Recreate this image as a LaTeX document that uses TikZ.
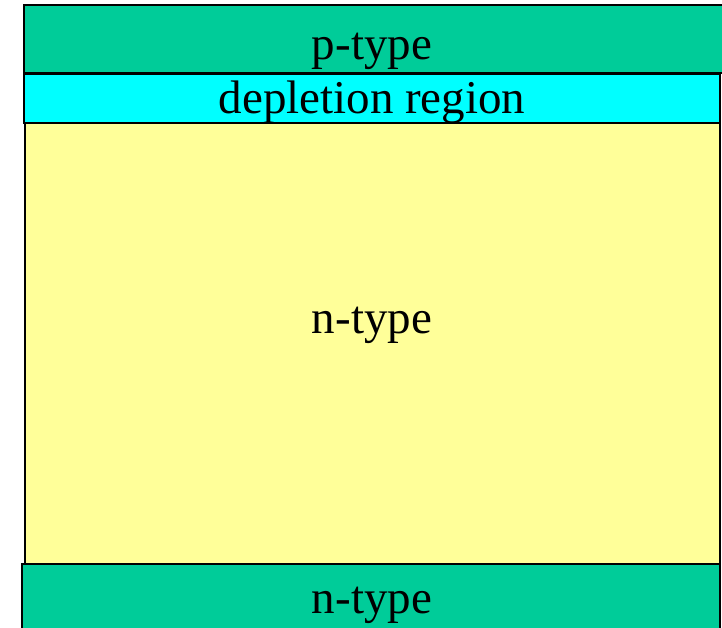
\documentclass[tikz,border=0pt]{standalone}
\usepackage{fontspec}
\setmainfont{Liberation Serif}
\definecolor{ptype}{RGB}{0,204,153}
\definecolor{depl}{RGB}{0,255,255}
\definecolor{ntype}{RGB}{255,255,153}
\begin{document}
\begin{tikzpicture}[x=1pt,y=-1pt,
  layer/.style={draw=black,line width=1.5pt},
  lbl/.style={font=\fontsize{47}{50}\selectfont,inner sep=0pt,anchor=base}]
\useasboundingbox (0,0) rectangle (722,627);
\fill[white] (0,0) rectangle (722,627);
\path[layer,fill=ntype] (25,123) rectangle (720,564);
\path[layer,fill=ptype] (24,5) rectangle (730,73);
\path[layer,fill=depl] (24,74) rectangle (720,123);
\path[layer,fill=ptype] (22,564) rectangle (720,640);
\node[lbl] (p) at (372,59) {p-type};
\node[lbl] (d) at (372,113) {depletion region};
\node[lbl] (n) at (372,333) {n-type};
\node[lbl] (nb) at (372,613) {n-type};
\end{tikzpicture}
\end{document}
